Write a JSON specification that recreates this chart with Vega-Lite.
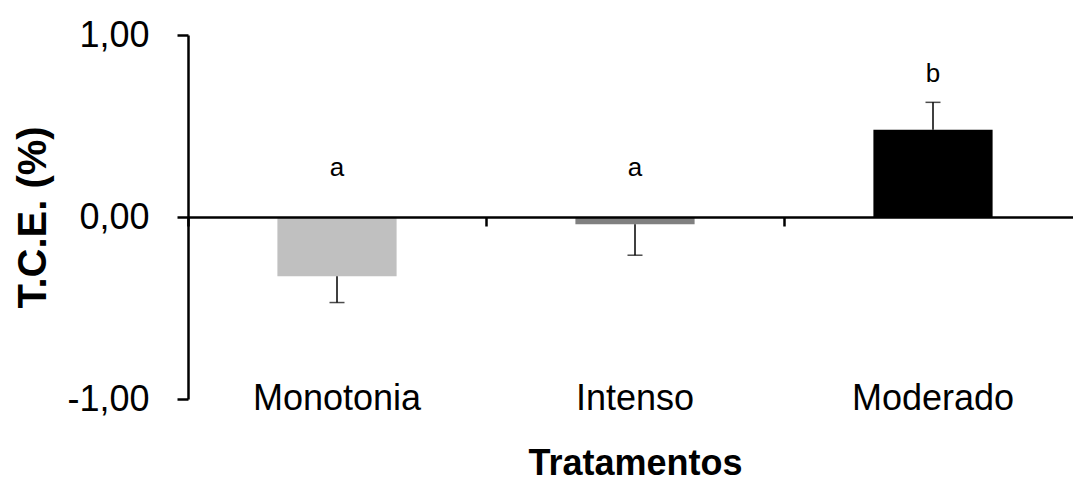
{
  "$schema": "https://vega.github.io/schema/vega-lite/v6.json",
  "width": 894,
  "height": 364,
  "autosize": "none",
  "padding": {"left": 188, "top": 35, "right": 0, "bottom": 83},
  "background": "white",
  "config": {"view": {"stroke": null}, "font": "Liberation Sans"},
  "data": {
    "values": [
      {"cat": "Monotonia", "val": -0.325, "err": -0.47, "letter": "a", "ly": 0.225},
      {"cat": "Intenso", "val": -0.04, "err": -0.21, "letter": "a", "ly": 0.225},
      {"cat": "Moderado", "val": 0.48, "err": 0.63, "letter": "b", "ly": 0.74}
    ]
  },
  "layer": [
    {
      "mark": {"type": "bar", "width": {"band": 0.4}},
      "encoding": {
        "x": {
          "field": "cat", "type": "nominal", "sort": null,
          "scale": {"domain": ["Monotonia", "Intenso", "Moderado"], "paddingInner": 0, "paddingOuter": 0},
          "axis": {
            "title": "Tratamentos", "orient": "bottom", "domain": false, "ticks": false, "tickSize": 0,
            "labelAngle": 0, "labelFontSize": 36, "labelColor": "black", "labelPadding": -18,
            "titleFontSize": 36, "titleFontWeight": "bold", "titleColor": "black",
            "titleY": 47, "titleBaseline": "top"
          }
        },
        "y": {
          "field": "val", "type": "quantitative",
          "scale": {"domain": [-1, 1], "nice": false, "zero": false},
          "axis": {
            "title": "T.C.E. (%)", "values": [-1, 0, 1], "grid": false,
            "labelExpr": "(datum.value < 0 ? '-' : '') + replace(format(abs(datum.value), '.2f'), '.', ',')",
            "labelFontSize": 36, "labelColor": "black", "labelPadding": 28,
            "domain": true, "domainColor": "black", "domainWidth": 2.5,
            "ticks": true, "tickColor": "black", "tickWidth": 2.5, "tickSize": 11,
            "titleFontSize": 40, "titleFontWeight": "bold", "titleColor": "black",
            "titleAngle": -90, "titleBaseline": "alphabetic", "titleAlign": "center",
            "titleX": -143, "titleY": 182
          }
        },
        "color": {
          "field": "cat", "type": "nominal",
          "scale": {"domain": ["Monotonia", "Intenso", "Moderado"], "range": ["#c0c0c0", "#808080", "#000000"]},
          "legend": null
        }
      }
    },
    {
      "mark": {"type": "rule", "color": "black", "strokeWidth": 1.5},
      "encoding": {
        "x": {"field": "cat", "type": "nominal", "sort": null, "axis": null},
        "y": {"field": "val", "type": "quantitative"},
        "y2": {"field": "err"}
      }
    },
    {
      "mark": {"type": "tick", "orient": "horizontal", "color": "black", "size": 15, "thickness": 1.5},
      "encoding": {
        "x": {"field": "cat", "type": "nominal", "sort": null, "axis": null},
        "y": {"field": "err", "type": "quantitative"}
      }
    },
    {
      "mark": {"type": "text", "fontSize": 26, "baseline": "alphabetic", "color": "black"},
      "encoding": {
        "x": {
          "field": "cat", "type": "nominal", "sort": null,
          "axis": {
            "orient": "bottom", "offset": -182, "title": null, "labels": false,
            "domain": true, "domainColor": "black", "domainWidth": 2.5,
            "ticks": true, "tickColor": "black", "tickWidth": 2.5, "tickSize": 9,
            "bandPosition": 0, "zindex": 1
          }
        },
        "y": {"field": "ly", "type": "quantitative"},
        "text": {"field": "letter"}
      }
    }
  ],
  "resolve": {"axis": {"x": "independent"}}
}
